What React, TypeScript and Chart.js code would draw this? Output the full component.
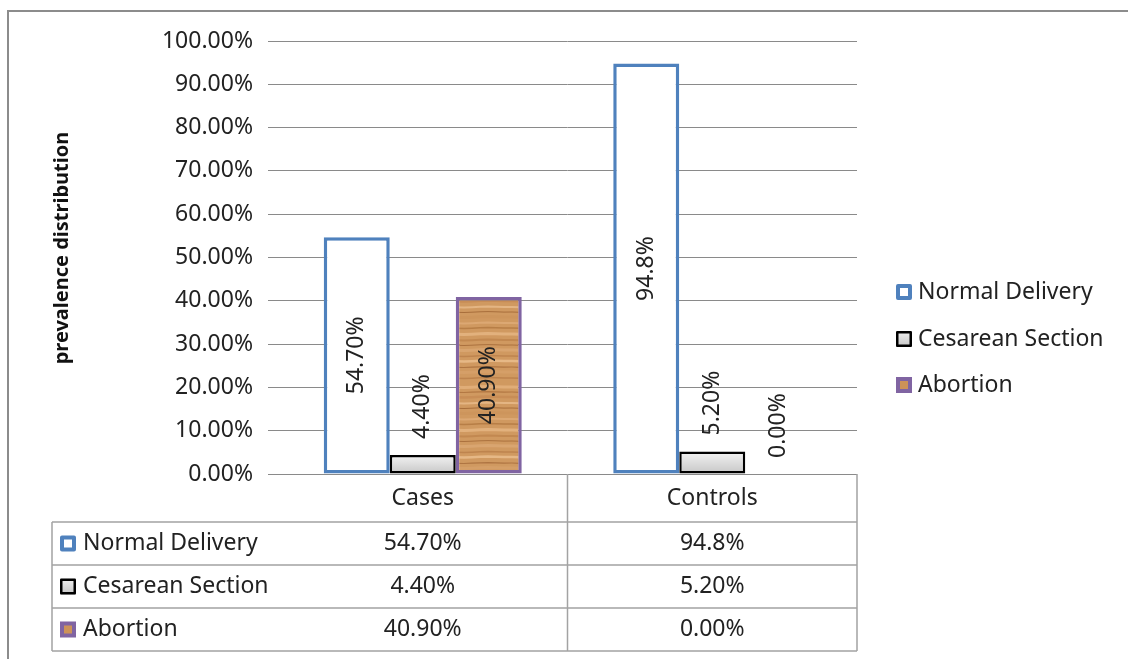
import React, { useEffect, useRef } from 'react';
import { Chart, registerables } from 'chart.js';

Chart.register(...registerables);

// ---------- data ----------
const categories = ['Cases', 'Controls'];
const seriesNames = ['Normal Delivery', 'Cesarean Section', 'Abortion'];
const normalDelivery = [54.7, 94.8];
const cesareanSection = [4.4, 5.2];
const abortion = [40.9, 0];
const normalLabels = ['54.70%', '94.8%'];
const cesareanLabels = ['4.40%', '5.20%'];
const abortionLabels = ['40.90%', '0.00%'];
const yMin = 0;
const yMax = 100;
const yStep = 10;
const yAxisTitle = 'prevalence distribution';

const FONT = '"Noto Sans", "DejaVu Sans", sans-serif';
const TEXT = '#222222';

function makeWoodPattern(): CanvasPattern | string {
  const c = document.createElement('canvas');
  c.width = 64;
  c.height = 96;
  const g = c.getContext('2d');
  if (!g) return '#cf9a62';
  g.fillStyle = '#d09960';
  g.fillRect(0, 0, 64, 96);
  const bands: [number, string, number][] = [
    [3, '#e0ad78', 3],
    [8, '#b37843', 1.2],
    [13, '#c88d56', 2.5],
    [19, '#e4b583', 2],
    [24, '#a86e3b', 1],
    [29, '#cd955c', 3],
    [35, '#dca873', 2],
    [40, '#b77e46', 1.5],
    [46, '#e2b17d', 3],
    [52, '#c28850', 2],
    [57, '#ab713e', 1],
    [62, '#d9a570', 3],
    [68, '#be844e', 1.5],
    [73, '#e6b886', 2.5],
    [79, '#af7542', 1.2],
    [84, '#d59f68', 3],
    [90, '#bd834d', 1.5],
  ];
  const wob = [0, 0.3, 0.5, 0.2, -0.2, -0.4, -0.2, 0.1, 0];
  for (const [y, col, w] of bands) {
    g.strokeStyle = col;
    g.lineWidth = w;
    g.beginPath();
    for (let i = 0; i < wob.length; i++) {
      const x = i * 8;
      if (i === 0) g.moveTo(x, y + wob[i]);
      else g.lineTo(x, y + wob[i]);
    }
    g.stroke();
  }
  const p = g.createPattern(c, 'repeat');
  return p || '#cf9a62';
}

function drawKey(ctx: CanvasRenderingContext2D, x: number, yc: number, idx: number) {
  const s = 16;
  const y = yc - s / 2;
  ctx.save();
  ctx.lineJoin = 'round';
  if (idx === 0) {
    ctx.fillStyle = '#ffffff';
    ctx.fillRect(x, y, s, s);
    ctx.strokeStyle = '#4f81bd';
    ctx.lineWidth = 4;
    ctx.strokeRect(x + 2, y + 2, s - 4, s - 4);
  } else if (idx === 1) {
    const gr = ctx.createLinearGradient(0, y, 0, y + s);
    gr.addColorStop(0, '#f2f2f2');
    gr.addColorStop(1, '#c4c4c4');
    ctx.fillStyle = gr;
    ctx.fillRect(x, y, s, s);
    ctx.strokeStyle = '#000000';
    ctx.lineWidth = 2.5;
    ctx.strokeRect(x + 1.25, y + 1.25, s - 2.5, s - 2.5);
  } else {
    ctx.fillStyle = '#8064a2';
    ctx.fillRect(x, y, s, s);
    ctx.fillStyle = '#cd9258';
    ctx.fillRect(x + 4, y + 4, s - 8, s - 8);
  }
  ctx.restore();
}

export default function App() {
  const ref = useRef<HTMLCanvasElement | null>(null);

  useEffect(() => {
    const canvas = ref.current;
    if (!canvas) return;
    const wood = makeWoodPattern();
    const labelSets = [normalLabels, cesareanLabels, abortionLabels];

    const overlay = {
      id: 'excelOverlay',
      afterDraw(chart: any) {
        const ctx: CanvasRenderingContext2D = chart.ctx;
        const ca = chart.chartArea;
        const xs = chart.scales.x;
        ctx.save();

        // outer frame
        ctx.strokeStyle = '#8c8c8c';
        ctx.lineWidth = 2;
        ctx.beginPath();
        ctx.moveTo(8, 659);
        ctx.lineTo(8, 11);
        ctx.lineTo(1128, 11);
        ctx.stroke();

        // y-axis title
        ctx.save();
        ctx.translate(62, 248);
        ctx.rotate(-Math.PI / 2);
        ctx.font = `bold 20px ${FONT}`;
        ctx.fillStyle = '#111';
        ctx.textAlign = 'center';
        ctx.textBaseline = 'middle';
        ctx.fillText(yAxisTitle, 0, 0);
        ctx.restore();

        // data labels (rotated)
        ctx.font = `23px ${FONT}`;
        ctx.fillStyle = TEXT;
        chart.data.datasets.forEach((_ds: any, di: number) => {
          const meta = chart.getDatasetMeta(di);
          meta.data.forEach((el: any, i: number) => {
            const txt = labelSets[di][i];
            const w = ctx.measureText(txt).width;
            const h = el.base - el.y;
            ctx.save();
            ctx.textBaseline = 'middle';
            if (h > w + 20) {
              ctx.translate(el.x, (el.y + el.base) / 2);
              ctx.rotate(-Math.PI / 2);
              ctx.textAlign = 'center';
            } else {
              ctx.translate(el.x, el.y - 16);
              ctx.rotate(-Math.PI / 2);
              ctx.textAlign = 'left';
            }
            ctx.fillText(txt, 0, 0);
            ctx.restore();
          });
        });

        // data table
        const c0 = xs.getPixelForValue(0);
        const c1 = xs.getPixelForValue(1);
        const mid = (c0 + c1) / 2;
        const right = ca.right;
        const top = ca.bottom;
        const headerBottom = top + 48;
        const rowH = 43;
        const left = 52;
        const tableBottom = headerBottom + rowH * 3;
        ctx.strokeStyle = '#a3a3a3';
        ctx.lineWidth = 1.5;
        ctx.beginPath();
        ctx.moveTo(mid, top);
        ctx.lineTo(mid, tableBottom);
        ctx.moveTo(right, top);
        ctx.lineTo(right, tableBottom);
        ctx.moveTo(left, headerBottom);
        ctx.lineTo(left, tableBottom);
        for (let r = 0; r <= 3; r++) {
          const y = headerBottom + r * rowH;
          ctx.moveTo(left, y);
          ctx.lineTo(right, y);
        }
        ctx.stroke();

        ctx.font = `23px ${FONT}`;
        ctx.fillStyle = TEXT;
        ctx.textBaseline = 'middle';
        ctx.textAlign = 'center';
        categories.forEach((c, i) => {
          ctx.fillText(c, xs.getPixelForValue(i), (top + headerBottom) / 2);
        });
        seriesNames.forEach((name, si) => {
          const yc = headerBottom + rowH * si + rowH / 2;
          drawKey(ctx, 60, yc, si);
          ctx.fillStyle = TEXT;
          ctx.textAlign = 'left';
          ctx.fillText(name, 83, yc);
          ctx.textAlign = 'center';
          categories.forEach((_c, ci) => {
            ctx.fillText(labelSets[si][ci], xs.getPixelForValue(ci), yc);
          });
        });

        // right legend
        const legendY = [292, 339, 385];
        seriesNames.forEach((name, si) => {
          drawKey(ctx, 896, legendY[si], si);
          ctx.fillStyle = TEXT;
          ctx.textAlign = 'left';
          ctx.fillText(name, 918, legendY[si]);
        });

        ctx.restore();
      },
    };

    const chart = new Chart(canvas, {
      type: 'bar',
      data: {
        labels: categories,
        datasets: [
          {
            label: seriesNames[0],
            data: normalDelivery,
            backgroundColor: '#ffffff',
            borderColor: '#4f81bd',
            borderWidth: 3.5,
            borderSkipped: false,
          },
          {
            label: seriesNames[1],
            data: cesareanSection,
            backgroundColor: (c: any) => {
              const ch = c.chart;
              if (!ch.chartArea || c.type !== 'data') return '#d9d9d9';
              const y = ch.scales.y;
              const t = y.getPixelForValue(c.raw);
              const b = y.getPixelForValue(0);
              if (!isFinite(t) || !isFinite(b) || t === b) return '#d9d9d9';
              const g = ch.ctx.createLinearGradient(0, t, 0, b);
              g.addColorStop(0, '#f3f3f3');
              g.addColorStop(1, '#c6c6c6');
              return g;
            },
            borderColor: '#000000',
            borderWidth: 2.5,
            borderSkipped: false,
          },
          {
            label: seriesNames[2],
            data: abortion,
            backgroundColor: wood as any,
            borderColor: '#8064a2',
            borderWidth: 3.5,
            borderSkipped: false,
          },
        ],
      },
      options: {
        responsive: false,
        animation: false,
        categoryPercentage: 0.684,
        barPercentage: 1,
        layout: { padding: { left: 0, top: 41, right: 271, bottom: 185 } },
        plugins: {
          legend: { display: false },
          tooltip: { enabled: false },
          title: { display: false },
        },
        scales: {
          x: { display: false, offset: true },
          y: {
            min: yMin,
            max: yMax,
            ticks: {
              stepSize: yStep,
              padding: 15,
              color: TEXT,
              font: { family: FONT, size: 23 },
              callback: (v: any) => Number(v).toFixed(2) + '%',
            },
            grid: { color: '#8a8a8a', lineWidth: 1, drawTicks: true, tickLength: 10 },
            border: { display: false },
            afterFit: (s: any) => {
              s.width = 278;
            },
          },
        },
      },
      plugins: [overlay],
    } as any);

    return () => chart.destroy();
  }, []);

  return (
    <div style={{ position: 'absolute', left: 0, top: 0, width: 1128, height: 659, background: '#fff' }}>
      <canvas ref={ref} width={1128} height={659} style={{ display: 'block' }} />
    </div>
  );
}
